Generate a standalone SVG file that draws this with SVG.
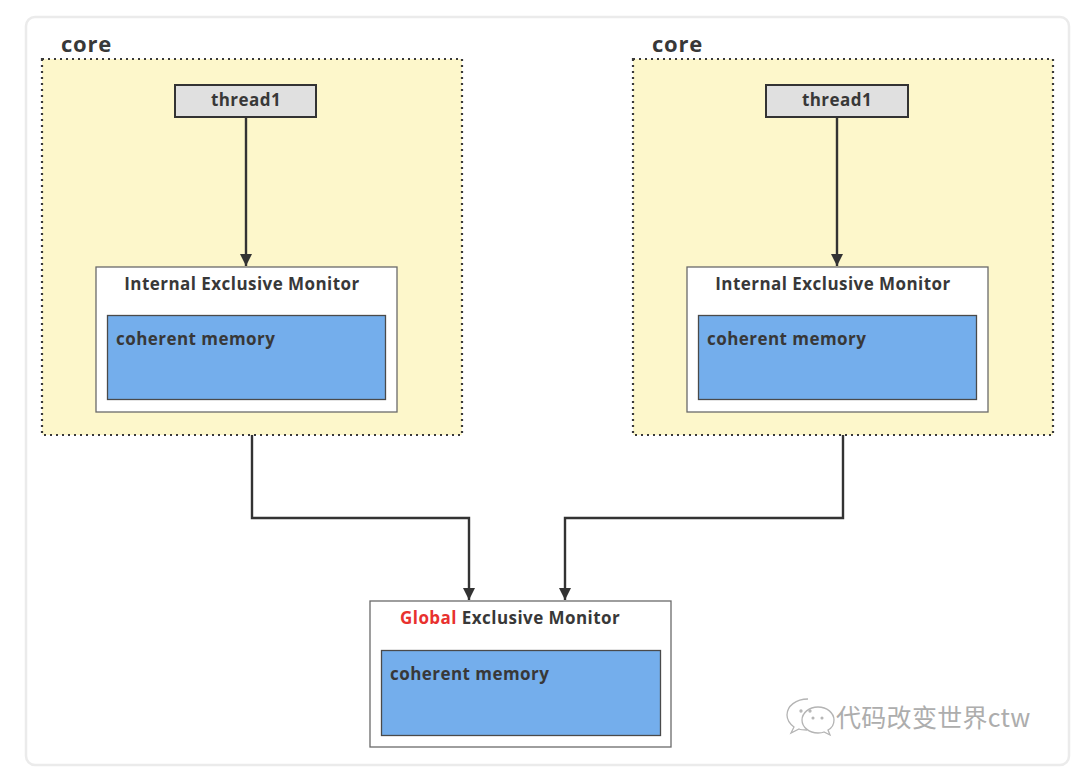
<svg xmlns="http://www.w3.org/2000/svg" width="1080" height="777" viewBox="0 0 1080 777">
  <style>
    .frame { fill: #ffffff; stroke: #ebebeb; stroke-width: 2.5; }
    .core { fill: #fdf7cb; stroke: #3a3a3a; stroke-width: 2.2; stroke-dasharray: 2 4; }
    .thread { fill: #e0e0e0; stroke: #333333; stroke-width: 2; }
    .monitor { fill: #ffffff; stroke: #6a6a6a; stroke-width: 1.3; }
    .mem { fill: #74aeec; stroke: #4a4a4a; stroke-width: 1.3; }
    .wire { fill: none; stroke: #333333; stroke-width: 2.4; }
    text { font-family: "Open Sans", "Noto Sans", "DejaVu Sans", sans-serif; font-weight: bold; fill: #383838; }
    .lbl-core { font-size: 22px; letter-spacing: 0.8px; }
    .lbl { font-size: 17px; letter-spacing: 0.45px; }
    .red { fill: #e8312e; }
    .wm { font-family: "Noto Sans CJK SC", "Noto Sans", sans-serif; font-weight: normal; font-size: 25px; fill: #adadad; letter-spacing: 0.3px; }
    .wm-icon { fill: none; stroke: #b4b4b4; stroke-width: 1.3; }
  </style>
  <defs>
    <marker id="arrow" viewBox="0 0 10 10" refX="10" refY="5" markerWidth="6.5" markerHeight="5" markerUnits="strokeWidth" orient="auto">
      <path d="M0,0 L10,5 L0,10 Z" fill="#333333"/>
    </marker>
  </defs>

  <rect width="1080" height="777" fill="#ffffff"/>
  <rect class="frame" x="26" y="17" width="1043" height="748" rx="9"/>

  <!-- left core -->
  <g id="core-left">
    <rect class="core" x="42" y="59" width="420" height="376"/>
    <text class="lbl-core" x="61" y="52">core</text>
  </g>
  <g id="thread-left">
    <rect class="thread" x="175" y="85" width="141" height="32"/>
    <text class="lbl" x="246" y="106" text-anchor="middle">thread1</text>
  </g>
  <g id="iem-left">
    <rect class="monitor" x="96" y="267" width="301" height="145"/>
    <text class="lbl" x="242" y="290" text-anchor="middle">Internal Exclusive Monitor</text>
    <rect class="mem" x="107.5" y="315.5" width="278" height="84"/>
    <text class="lbl" x="116" y="345">coherent memory</text>
  </g>

  <!-- right core -->
  <g id="core-right">
    <rect class="core" x="633" y="59" width="420" height="376"/>
    <text class="lbl-core" x="652" y="52">core</text>
  </g>
  <g id="thread-right">
    <rect class="thread" x="766" y="85" width="142" height="32"/>
    <text class="lbl" x="837" y="106" text-anchor="middle">thread1</text>
  </g>
  <g id="iem-right">
    <rect class="monitor" x="687" y="267" width="301" height="145"/>
    <text class="lbl" x="833" y="290" text-anchor="middle">Internal Exclusive Monitor</text>
    <rect class="mem" x="698.5" y="315.5" width="278" height="84"/>
    <text class="lbl" x="707" y="345">coherent memory</text>
  </g>

  <!-- global monitor -->
  <g id="gem">
    <rect class="monitor" x="370" y="601" width="301" height="146"/>
    <text class="lbl" x="400" y="624"><tspan class="red">Global</tspan> Exclusive Monitor</text>
    <rect class="mem" x="381.5" y="650.5" width="279" height="85"/>
    <text class="lbl" x="390" y="680">coherent memory</text>
  </g>

  <!-- connectors -->
  <g id="connectors">
    <path class="wire" d="M246,117 V266" marker-end="url(#arrow)"/>
    <path class="wire" d="M837,117 V266" marker-end="url(#arrow)"/>
    <path class="wire" d="M252,435 V518 H469 V600" marker-end="url(#arrow)"/>
    <path class="wire" d="M843,435 V518 H565 V600" marker-end="url(#arrow)"/>
  </g>

  <!-- watermark: chat-bubble icon and account name -->
  <g id="watermark">
    <g class="wm-icon">
      <path d="M808,699 c-12,0 -21,7 -21,16 c0,5 3,9 7,12 l-3,6 l8,-4 c2,1 5,1 8,1"/>
      <path d="M818,707 c-9,0 -16,6 -16,13 c0,7 7,13 16,13 c2,0 4,0 6,-1 l6,3 l-2,-5 c4,-2 6,-6 6,-10 c0,-7 -7,-13 -16,-13 z"/>
      <circle cx="801" cy="711" r="1"/>
      <circle cx="810" cy="711" r="1"/>
      <circle cx="813" cy="718" r="0.9"/>
      <circle cx="822" cy="718" r="0.9"/>
    </g>
    <text class="wm" x="836" y="727">代码改变世界ctw</text>
  </g>
</svg>
